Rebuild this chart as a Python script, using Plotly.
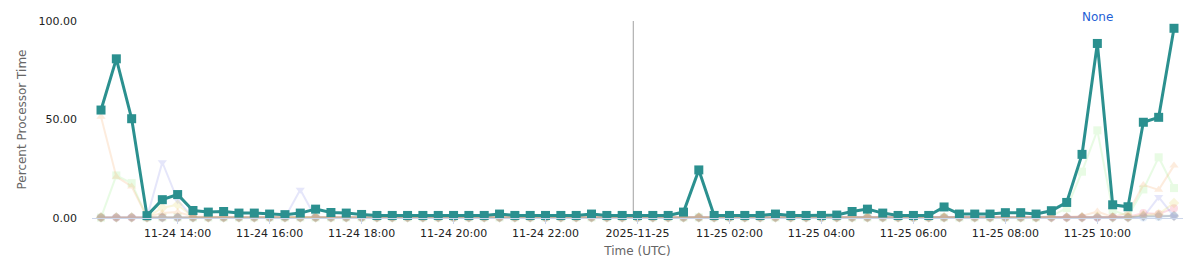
import pandas as pd
import plotly.graph_objects as go

# ---- data -------------------------------------------------------------
times = pd.date_range("2025-11-24 12:20", periods=71, freq="20min")

tick_times = ["2025-11-24 14:00", "2025-11-24 16:00", "2025-11-24 18:00",
              "2025-11-24 20:00", "2025-11-24 22:00", "2025-11-25 00:00",
              "2025-11-25 02:00", "2025-11-25 04:00", "2025-11-25 06:00",
              "2025-11-25 08:00", "2025-11-25 10:00"]
tick_text = ["11-24 14:00", "11-24 16:00", "11-24 18:00", "11-24 20:00",
             "11-24 22:00", "2025-11-25", "11-25 02:00", "11-25 04:00",
             "11-25 06:00", "11-25 08:00", "11-25 10:00"]

y_ticks = [0, 50, 100]
y_tick_text = ["0.00", "50.00", "100.00"]

# highlighted series (teal squares)
teal = [54.8, 80.8, 50.4, 1.2, 9.3, 11.9, 3.8, 3.0, 3.3, 2.5,
        2.5, 2.0, 1.7, 2.5, 4.5, 2.8, 2.5, 1.8, 1.3, 1.3,
        1.3, 1.3, 1.3, 1.3, 1.3, 1.3, 2.0, 1.3, 1.3, 1.3,
        1.3, 1.3, 2.0, 1.3, 1.3, 1.3, 1.3, 1.3, 3.0, 24.4,
        1.3, 1.3, 1.3, 1.3, 2.0, 1.3, 1.3, 1.3, 1.5, 3.3,
        4.5, 2.5, 1.3, 1.3, 1.3, 5.6, 2.0, 2.0, 2.0, 2.7,
        2.7, 2.0, 3.7, 7.9, 32.3, 88.6, 6.7, 5.7, 48.6, 51.1,
        96.3]

# faded series
light_blue = [0.2, 0.2, 0.2, 0.2, 0.2, 0.2, 0.2, 0.2, 0.2, 0.2,
              0.2, 0.2, 0.2, 0.2, 0.2, 0.2, 0.2, 0.2, 0.2, 0.2,
              0.2, 0.2, 0.2, 0.2, 0.2, 0.2, 0.2, 0.2, 0.2, 0.2,
              0.2, 0.2, 0.2, 0.2, 0.2, 0.2, 0.2, 0.2, 0.2, 0.2,
              0.2, 0.2, 0.2, 0.2, 0.2, 0.2, 0.2, 0.2, 0.2, 0.2,
              0.2, 0.2, 0.2, 0.2, 0.2, 0.2, 0.2, 0.2, 0.2, 0.2,
              0.2, 0.2, 0.2, 0.2, 0.2, 0.2, 0.2, 0.2, 0.3, 0.5,
              1.2]
dark_gray = [0.3, 0.3, 0.3, 0.3, 0.3, 0.3, 0.3, 0.3, 0.3, 0.3,
             0.3, 0.3, 0.3, 0.3, 0.3, 0.3, 0.3, 0.3, 0.3, 0.3,
             0.3, 0.3, 0.3, 0.3, 0.3, 0.3, 0.3, 0.3, 0.3, 0.3,
             0.3, 0.3, 0.3, 0.3, 0.3, 0.3, 0.3, 0.3, 0.3, 0.3,
             0.3, 0.3, 0.3, 0.3, 0.3, 0.3, 0.3, 0.3, 0.3, 0.3,
             0.3, 0.3, 0.3, 0.3, 0.3, 0.3, 0.3, 0.3, 0.3, 0.3,
             0.3, 0.3, 0.3, 0.3, 0.3, 0.3, 0.3, 0.3, 1.0, 1.2,
             1.0]
green = [0.2, 21.6, 17.7, 0.3, 0.3, 0.3, 0.3, 0.3, 0.3, 0.3,
         0.3, 0.3, 0.3, 0.3, 0.3, 0.3, 0.3, 0.3, 0.3, 0.3,
         0.3, 0.3, 0.3, 0.3, 0.3, 0.3, 0.3, 0.3, 0.3, 0.3,
         0.3, 0.3, 0.3, 0.3, 0.3, 0.3, 0.3, 0.3, 0.3, 0.3,
         0.3, 0.3, 0.3, 0.3, 0.3, 0.3, 0.3, 0.3, 0.3, 0.3,
         0.3, 0.3, 0.3, 0.3, 0.3, 0.3, 0.3, 0.3, 0.3, 0.3,
         0.3, 0.3, 1.0, 5.0, 23.5, 44.5, 4.0, 1.0, 14.5, 30.8,
         15.2]
orange = [51.4, 21.0, 16.0, 0.5, 2.5, 3.0, 0.8, 0.5, 0.5, 0.5,
          0.5, 0.5, 0.5, 0.5, 0.5, 0.5, 0.5, 0.5, 0.5, 0.5,
          0.5, 0.5, 0.5, 0.5, 0.5, 0.5, 0.5, 0.5, 0.5, 0.5,
          0.5, 0.5, 0.5, 0.5, 0.5, 0.5, 0.5, 0.5, 0.5, 0.5,
          0.5, 0.5, 0.5, 0.5, 0.5, 0.5, 0.5, 0.5, 0.5, 0.5,
          0.5, 0.5, 0.5, 0.5, 0.5, 0.5, 0.5, 0.5, 0.5, 0.5,
          0.5, 0.5, 0.5, 0.5, 1.0, 3.3, 0.5, 2.6, 16.8, 14.3,
          26.6]
indigo = [0.2, 0.2, 0.2, 0.2, 28.3, 9.0, 0.2, 0.2, 0.2, 0.2,
          0.2, 0.2, 0.2, 14.3, 0.2, 0.2, 0.2, 0.2, 0.2, 0.2,
          0.2, 0.2, 0.2, 0.2, 0.2, 0.2, 0.2, 0.2, 0.2, 0.2,
          0.2, 0.2, 0.2, 0.2, 0.2, 0.2, 0.2, 0.2, 0.2, 0.2,
          0.2, 0.2, 0.2, 0.2, 0.2, 0.2, 0.2, 0.2, 0.2, 0.2,
          0.2, 0.2, 0.2, 0.2, 0.2, 0.2, 0.2, 0.2, 0.2, 0.2,
          0.2, 0.2, 0.2, 0.2, 0.2, 0.2, 0.2, 0.2, 0.5, 10.6,
          0.8]
pink = [0.3, 0.3, 0.3, 0.3, 0.3, 0.3, 0.3, 0.3, 0.3, 0.3,
        0.3, 0.3, 0.3, 0.3, 0.3, 0.3, 0.3, 0.3, 0.3, 0.3,
        0.3, 0.3, 0.3, 0.3, 0.3, 0.3, 0.3, 0.3, 0.3, 0.3,
        0.3, 0.3, 0.3, 0.3, 0.3, 0.3, 0.3, 0.3, 0.3, 0.3,
        0.3, 0.3, 0.3, 0.3, 0.3, 0.3, 0.3, 0.3, 0.3, 0.3,
        0.3, 0.3, 0.3, 0.3, 0.3, 0.3, 0.3, 0.3, 0.3, 0.3,
        0.3, 0.3, 0.3, 0.3, 0.3, 0.3, 0.5, 0.5, 2.5, 2.0,
        5.0]
gold = [0.3, 0.3, 0.3, 0.3, 5.2, 6.7, 0.5, 0.3, 0.3, 0.3,
        0.3, 0.3, 0.3, 0.3, 0.3, 0.3, 0.3, 0.3, 0.3, 0.3,
        0.3, 0.3, 0.3, 0.3, 0.3, 0.3, 0.3, 0.3, 0.3, 0.3,
        0.3, 0.3, 0.3, 0.3, 0.3, 0.3, 0.3, 0.3, 0.3, 0.3,
        0.3, 0.3, 0.3, 0.3, 0.3, 0.3, 0.3, 0.3, 0.3, 0.3,
        0.3, 0.3, 0.3, 0.3, 0.3, 0.3, 0.3, 0.3, 0.3, 0.3,
        0.3, 0.3, 0.3, 0.3, 0.3, 0.8, 0.3, 0.3, 1.5, 2.0,
        7.6]

faded = [
    ("#7cb5ec", "circle", light_blue),
    ("#434348", "diamond", dark_gray),
    ("#90ed7d", "square", green),
    ("#f7a35c", "triangle-up", orange),
    ("#8085e9", "triangle-down", indigo),
    ("#f15c80", "circle", pink),
    ("#e4d354", "diamond", gold),
]

x_range = ["2025-11-24 12:08:15", "2025-11-25 11:51:45"]
crosshair_time = "2025-11-24 23:54:30"
peak_label_time = "2025-11-25 10:00"

# ---- figure -----------------------------------------------------------
fig = go.Figure()
for color, symbol, vals in faded:
    fig.add_trace(go.Scatter(
        x=times, y=vals, mode="lines+markers", opacity=0.2,
        line=dict(color=color, width=2),
        marker=dict(color=color, symbol=symbol, size=8),
        cliponaxis=False, hoverinfo="skip"))

fig.add_trace(go.Scatter(
    x=times, y=teal, mode="lines+markers",
    line=dict(color="#2b908f", width=3),
    marker=dict(color="#2b908f", symbol="square", size=9),
    cliponaxis=False))

fig.add_shape(type="line", xref="x", yref="paper",
              x0=crosshair_time, x1=crosshair_time, y0=0, y1=1,
              line=dict(color="#a0a0a0", width=1), layer="below")

fig.add_annotation(x=peak_label_time, xref="x", y=1, yref="paper",
                   text="None", showarrow=False, yanchor="middle", yshift=4,
                   font=dict(color="#1f5fd6", size=12, family="DejaVu Sans"))

fig.update_layout(
    width=1185, height=262,
    margin=dict(l=92, r=2, t=21, b=44),
    paper_bgcolor="white", plot_bgcolor="white",
    showlegend=False,
    font=dict(family="DejaVu Sans", size=11, color="#222"),
    xaxis=dict(
        type="date", range=x_range,
        tickmode="array", tickvals=tick_times, ticktext=tick_text,
        ticks="outside", ticklen=5, tickcolor="#ccd6eb", tickwidth=1,
        showline=True, linecolor="#ccd6eb", linewidth=1,
        showgrid=False, zeroline=False,
        tickfont=dict(size=11, color="#222"),
        title=dict(text="Time (UTC)", font=dict(size=12, color="#666666"),
                   standoff=7),
    ),
    yaxis=dict(
        range=[0, 100],
        tickmode="array", tickvals=y_ticks, ticktext=y_tick_text,
        ticks="", showline=False, showgrid=False, zeroline=False,
        ticklabelstandoff=14,
        tickfont=dict(size=11, color="#222"),
        title=dict(text="Percent Processor Time",
                   font=dict(size=12, color="#666666"), standoff=9),
    ),
)

fig.write_html("out.html")
